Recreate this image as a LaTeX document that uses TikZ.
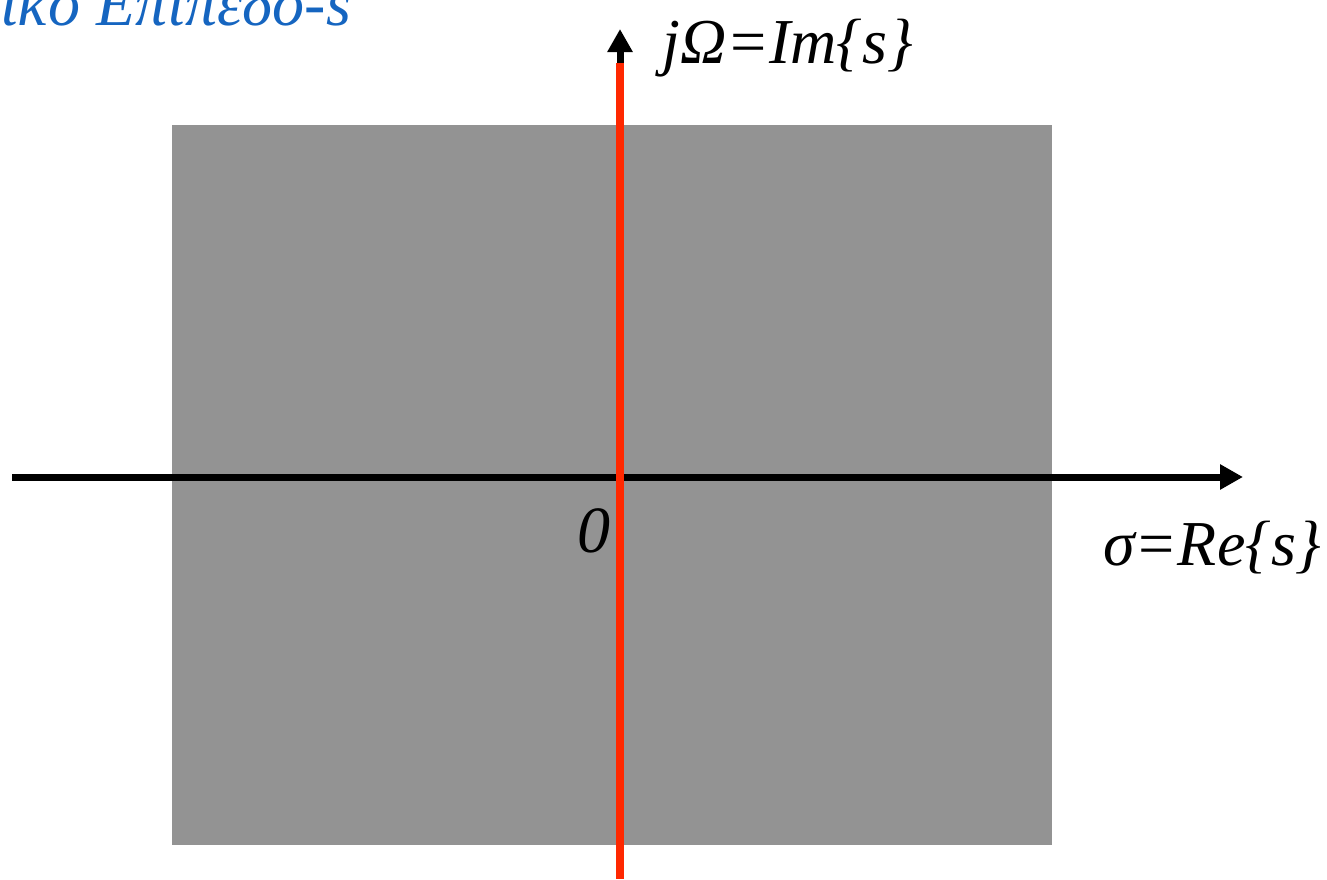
\documentclass[tikz,border=0pt]{standalone}
\usepackage{fontspec}
\setmainfont{Liberation Serif}
\usetikzlibrary{arrows.meta}
\definecolor{plane}{RGB}{147,147,147}
\definecolor{axisred}{RGB}{255,40,0}
\definecolor{titleblue}{RGB}{21,101,192}
\tikzset{
  axisline/.style={line width=7pt, black},
  axisarrow/.style={-{Triangle[length=23pt,width=24pt]}},
  redline/.style={line width=8pt, axisred},
  lbl/.style={inner sep=0pt, anchor=base west, font=\itshape\fontsize{64}{70}\selectfont},
}
\begin{document}
\begin{tikzpicture}[x=1pt,y=-1pt]
\useasboundingbox (0,0) rectangle (1327,879);
\fill[plane] (172,125) rectangle (1052,845);
\coordinate (xl) at (12,477);
\coordinate (xr) at (1243,477);
\coordinate (yb) at (620,70);
\coordinate (yt) at (620,29);
\coordinate (rt) at (620,63);
\coordinate (rb) at (620,879);
\draw[axisline,axisarrow] (xl) -- (xr);
\draw[axisline,axisarrow] (yb) -- (yt);
\draw[redline] (rt) -- (rb);
\node[lbl] (im) at (662,63) {jΩ=Im\{s\}};
\node[lbl] (re) at (1103,565) {σ=Re\{s\}};
\node[lbl, font=\itshape\fontsize{66}{72}\selectfont] (zero) at (577,552) {0};
\node[lbl, text=titleblue] (title) at (0,25) {ικό Επίπεδο-s};
\end{tikzpicture}
\end{document}
